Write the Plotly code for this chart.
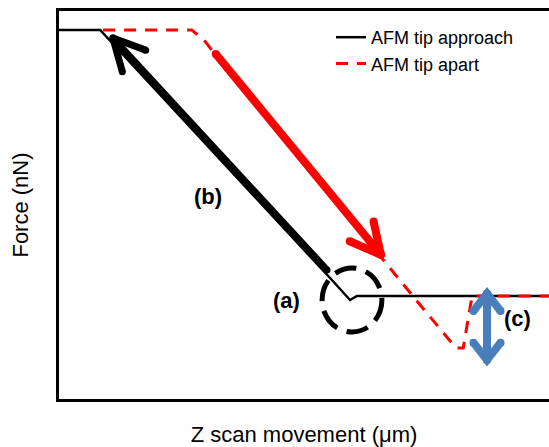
import math
import plotly.graph_objects as go

# ---- data (Z scan movement in um, Force in nN; schematic units) ----
approach_z = [0.0, 0.86, 5.59, 5.96, 6.10, 10.05]
approach_f = [6.65, 6.65, 0.40, -0.10, 0.0, 0.0]

apart_z = [0.92, 2.73, 2.98, 3.18, 7.24, 8.12, 8.27, 8.45, 10.05]
apart_f = [6.65, 6.65, 6.40, 6.08, 0.0, -1.30, -1.30, 0.0, 0.0]

# arrow annotations: (tail, tip)
arrow_b_tail = (5.49, 0.65)
arrow_b_tip = (1.12, 6.45)
arrow_red_tail = (3.22, 6.05)
arrow_red_tip = (6.59, 1.03)
arrow_c_top = (8.755, 0.06)
arrow_c_bottom = (8.755, -1.60)

circle_a = dict(x0=5.39, x1=6.61, y0=0.70, y1=-0.90)

labels_text = ["(a)", "(b)", "(c)"]
labels_z = [4.67, 3.06, 9.37]
labels_f = [-0.10, 2.48, -0.55]

legend_names = ["AFM tip approach", "AFM tip apart"]

# ---- layout geometry ----
W, H = 549, 447
ML, MR, MT, MB = 59, 0, 11, 48
PW, PH = W - ML - MR, H - MT - MB
XR = [(ML - 58) / 49, (ML - 58) / 49 + PW / 49]
YR = [(296 - MT) / 40 - PH / 40, (296 - MT) / 40]
SX = PW / (XR[1] - XR[0])
SY = PH / (YR[1] - YR[0])


def head(tip, tail, length_px, ang_deg):
    dx = (tail[0] - tip[0]) * SX
    dy = -(tail[1] - tip[1]) * SY
    n = math.hypot(dx, dy)
    ux, uy = dx / n, dy / n
    pts = []
    for s in (1, -1):
        a = math.radians(ang_deg) * s
        bx = ux * math.cos(a) - uy * math.sin(a)
        by = ux * math.sin(a) + uy * math.cos(a)
        pts.append((tip[0] + bx * length_px / SX, tip[1] - by * length_px / SY))
    return pts


def arrow_xy(tail, tip, length_px, ang, double=False):
    b1, b2 = head(tip, tail, length_px, ang)
    xs = [tail[0], tip[0], None, b1[0], tip[0], b2[0]]
    ys = [tail[1], tip[1], None, b1[1], tip[1], b2[1]]
    if double:
        c1, c2 = head(tail, tip, length_px, ang)
        xs += [None, c1[0], tail[0], c2[0]]
        ys += [None, c1[1], tail[1], c2[1]]
    return xs, ys


fig = go.Figure()

bx, by = arrow_xy(arrow_b_tail, arrow_b_tip, 35, 27)
fig.add_trace(go.Scatter(x=bx, y=by, mode="lines+markers", showlegend=False,
                         line=dict(color="black", width=7),
                         marker=dict(color="black", size=7), hoverinfo="skip"))

rx, ry = arrow_xy(arrow_red_tail, arrow_red_tip, 34, 27)
fig.add_trace(go.Scatter(x=rx, y=ry, mode="lines+markers", showlegend=False,
                         line=dict(color="#ff0000", width=8),
                         marker=dict(color="#ff0000", size=8), hoverinfo="skip"))

fig.add_trace(go.Scatter(x=approach_z, y=approach_f, mode="lines", name=legend_names[0],
                         line=dict(color="black", width=2.5)))
fig.add_trace(go.Scatter(x=apart_z, y=apart_f, mode="lines", name=legend_names[1],
                         line=dict(color="#ff0000", width=3, dash="12px,9px")))

cx, cy = arrow_xy(arrow_c_bottom, arrow_c_top, 22, 38, double=True)
fig.add_trace(go.Scatter(x=cx, y=cy, mode="lines+markers", showlegend=False,
                         line=dict(color="#4a7ebb", width=8),
                         marker=dict(color="#4a7ebb", size=8), hoverinfo="skip"))

fig.add_shape(type="circle", xref="x", yref="y", **circle_a,
              line=dict(color="black", width=5, dash="22px,10px"))

for t, xz, yf in zip(labels_text, labels_z, labels_f):
    fig.add_annotation(x=xz, y=yf, text="<b>%s</b>" % t, showarrow=False,
                       font=dict(size=22, color="black"), xanchor="center", yanchor="middle")

fig.update_layout(
    width=W, height=H,
    margin=dict(l=ML, r=MR, t=MT, b=MB, pad=0),
    paper_bgcolor="white", plot_bgcolor="white",
    font=dict(family="Arial, Liberation Sans, sans-serif", color="black"),
    showlegend=True,
    legend=dict(x=(331 - ML) / PW, y=1 - (19 - MT) / PH, xanchor="left", yanchor="top",
                bgcolor="rgba(0,0,0,0)", font=dict(size=18), tracegroupgap=0),
)
fig.update_xaxes(range=XR, showgrid=False, zeroline=False, showticklabels=False, ticks="",
                 showline=True, linecolor="black", linewidth=3, mirror=True,
                 title=dict(text="Z scan movement (\u03bcm)", font=dict(size=22), standoff=35),
                 automargin=False)
fig.update_yaxes(range=YR, showgrid=False, zeroline=False, showticklabels=False, ticks="",
                 showline=True, linecolor="black", linewidth=3, mirror=False,
                 title=dict(text="Force (nN)", font=dict(size=22), standoff=22),
                 automargin=False)

fig.write_html("out.html", config={"displayModeBar": False},
               post_script="document.body.style.margin='0';document.body.style.overflow='hidden';")
